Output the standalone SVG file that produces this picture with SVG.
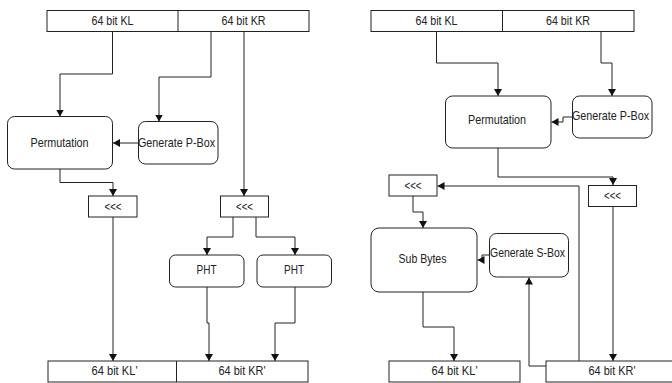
<svg xmlns="http://www.w3.org/2000/svg" width="672" height="383" viewBox="0 0 672 383">
<defs>
<marker id="ah" markerUnits="userSpaceOnUse" markerWidth="8" markerHeight="8" refX="7" refY="4" orient="auto">
<path d="M0,0 L7,4 L0,8 z" fill="#111"/>
</marker>
<style>
.bx{fill:#fff;stroke:#222;stroke-width:1}
.t{font-family:"Liberation Sans",Arial,sans-serif;font-size:13px;fill:#222;text-anchor:middle;dominant-baseline:central}
.c{fill:none;stroke:#222;stroke-width:1;marker-end:url(#ah)}
.l{fill:none;stroke:#222;stroke-width:1}
</style>
</defs>
<rect width="672" height="383" fill="#fff"/>

<g id="connectors">
<!-- left panel -->
<path class="c" d="M112.5,32 V74 H60 V116.5"/>
<path class="c" d="M211,32 V77 H159 V121.5"/>
<path class="c" d="M138,143 H113"/>
<path class="c" d="M244,32 V196"/>
<path class="c" d="M60,169 V182.5 H113 V196"/>
<path class="c" d="M113,217 V361"/>
<path class="c" d="M233,217 V237 H207 V255"/>
<path class="c" d="M256,217 V237 H295 V255"/>
<path class="c" d="M207,287 V323 H209 V361"/>
<path class="c" d="M295,287 V323 H275 V361"/>
<!-- right panel -->
<path class="c" d="M436.5,32 V63 H498 V96"/>
<path class="c" d="M601,32 V63 H612 V96"/>
<path class="c" d="M572,117 H563 V122 H551.5"/>
<path class="c" d="M498,148 V177 H613 V185"/>
<path class="c" d="M579,361 V186 H437.5"/>
<path class="c" d="M613,207 V361"/>
<path class="c" d="M413,196 V212 H423 V228"/>
<path class="c" d="M489,255 H482 V260 H477.5"/>
<path class="c" d="M546,366 H529 V277.5"/>
<path class="c" d="M423,292 V327 H454 V361"/>
</g>

<!-- left panel nodes -->
<g id="L_top">
<rect class="bx" x="47" y="10.5" width="262" height="21"/>
<line class="l" x1="178" y1="10.5" x2="178" y2="31.5"/>
<text class="t" x="112.5" y="20.5" textLength="42" lengthAdjust="spacingAndGlyphs">64 bit KL</text>
<text class="t" x="243.5" y="20.5" textLength="44" lengthAdjust="spacingAndGlyphs">64 bit KR</text>
</g>
<g id="L_perm">
<rect class="bx" x="7.5" y="116.5" width="105" height="52.5" rx="7"/>
<text class="t" x="59.5" y="142" textLength="58" lengthAdjust="spacingAndGlyphs">Permutation</text>
</g>
<g id="L_genp">
<rect class="bx" x="138.5" y="121.5" width="79.5" height="42.5" rx="7"/>
<text class="t" x="176.5" y="142.5" textLength="77" lengthAdjust="spacingAndGlyphs">Generate P-Box</text>
</g>
<g id="L_rot1">
<rect class="bx" x="88.5" y="196" width="48.5" height="21"/>
<text class="t" x="113" y="206" textLength="17" lengthAdjust="spacingAndGlyphs">&lt;&lt;&lt;</text>
</g>
<g id="L_rot2">
<rect class="bx" x="220.5" y="196" width="48" height="21"/>
<text class="t" x="244.5" y="206" textLength="17" lengthAdjust="spacingAndGlyphs">&lt;&lt;&lt;</text>
</g>
<g id="L_pht1">
<rect class="bx" x="169.5" y="255" width="74.5" height="32" rx="6"/>
<text class="t" x="206.5" y="269.5" textLength="20" lengthAdjust="spacingAndGlyphs">PHT</text>
</g>
<g id="L_pht2">
<rect class="bx" x="257" y="255" width="74.5" height="32" rx="6"/>
<text class="t" x="294" y="269.5" textLength="20" lengthAdjust="spacingAndGlyphs">PHT</text>
</g>
<g id="L_bottom">
<rect class="bx" x="48" y="361" width="260" height="21"/>
<line class="l" x1="176.5" y1="361" x2="176.5" y2="382"/>
<text class="t" x="114.5" y="370.5" textLength="46" lengthAdjust="spacingAndGlyphs">64 bit KL'</text>
<text class="t" x="242" y="370.5" textLength="47" lengthAdjust="spacingAndGlyphs">64 bit KR'</text>
</g>

<!-- right panel nodes -->
<g id="R_top">
<rect class="bx" x="371" y="10.5" width="263" height="21"/>
<line class="l" x1="502.5" y1="10.5" x2="502.5" y2="31.5"/>
<text class="t" x="436.5" y="20" textLength="42" lengthAdjust="spacingAndGlyphs">64 bit KL</text>
<text class="t" x="568" y="20" textLength="44" lengthAdjust="spacingAndGlyphs">64 bit KR</text>
</g>
<g id="R_perm">
<rect class="bx" x="445.5" y="96" width="105.5" height="52" rx="7"/>
<text class="t" x="497" y="119.5" textLength="58" lengthAdjust="spacingAndGlyphs">Permutation</text>
</g>
<g id="R_genp">
<rect class="bx" x="572.5" y="96" width="79.5" height="42" rx="7"/>
<text class="t" x="610.5" y="115" textLength="77" lengthAdjust="spacingAndGlyphs">Generate P-Box</text>
</g>
<g id="R_rot1">
<rect class="bx" x="389" y="175" width="48" height="21"/>
<text class="t" x="413" y="185" textLength="17" lengthAdjust="spacingAndGlyphs">&lt;&lt;&lt;</text>
</g>
<g id="R_rot2">
<rect class="bx" x="588.5" y="185.5" width="48" height="21"/>
<text class="t" x="612.5" y="195.5" textLength="17" lengthAdjust="spacingAndGlyphs">&lt;&lt;&lt;</text>
</g>
<g id="R_sub">
<rect class="bx" x="371" y="228" width="106" height="64" rx="8"/>
<text class="t" x="422.5" y="258.5" textLength="48" lengthAdjust="spacingAndGlyphs">Sub Bytes</text>
</g>
<g id="R_gens">
<rect class="bx" x="489.5" y="233.5" width="79" height="43.5" rx="7"/>
<text class="t" x="527.5" y="252.5" textLength="75" lengthAdjust="spacingAndGlyphs">Generate S-Box</text>
</g>
<g id="R_kl">
<rect class="bx" x="389" y="361" width="131" height="21"/>
<text class="t" x="454.5" y="370" textLength="46" lengthAdjust="spacingAndGlyphs">64 bit KL'</text>
</g>
<g id="R_kr">
<rect class="bx" x="546" y="361" width="130" height="21"/>
<text class="t" x="612" y="370" textLength="47" lengthAdjust="spacingAndGlyphs">64 bit KR'</text>
</g>
</svg>
